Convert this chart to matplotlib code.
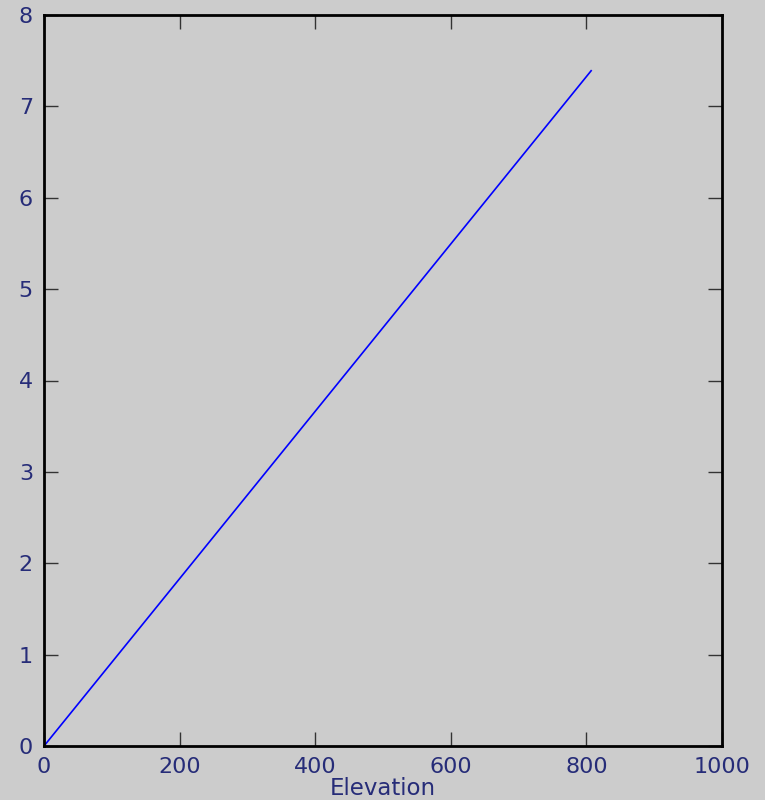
import matplotlib
matplotlib.use("Agg")
import matplotlib.pyplot as plt

elevation = [0, 807]
values = [0, 7.39]
xticks = [0, 200, 400, 600, 800, 1000]
yticks = [0, 1, 2, 3, 4, 5, 6, 7, 8]

bg = "#cccccc"
tc = "#262c78"
plt.rcParams['font.family'] = ['DejaVu Sans']

fig = plt.figure(figsize=(7.65, 8.0), dpi=100, facecolor=bg)
ax = fig.add_axes([44/765, 1-746/800, (722-44)/765, (746-15)/800])
ax.set_facecolor(bg)
ax.plot(elevation, values, color="#0000ff", lw=1.2)
ax.set_xlim(0, 1000)
ax.set_ylim(0, 8)
ax.set_xticks(xticks)
ax.set_yticks(yticks)
ax.tick_params(direction="in", length=10, width=1, color="#333333",
               top=True, right=True, labelsize=16, labelcolor=tc)
ax.tick_params(axis="x", pad=8)
ax.tick_params(axis="y", pad=8)
for s in ax.spines.values():
    s.set_linewidth(2)
    s.set_color("black")
ax.set_xlabel("Elevation", fontsize=16.5, color=tc, labelpad=0)
fig.savefig("out.png", dpi=100, facecolor=bg)
